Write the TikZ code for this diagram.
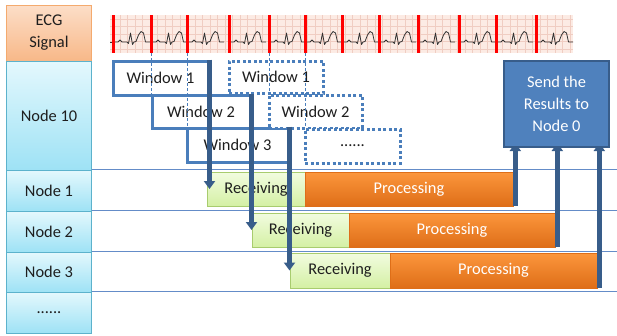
\documentclass[tikz,border=0pt]{standalone}
\usepackage{fontspec}
\setmainfont{Carlito}
\usetikzlibrary{arrows.meta}
\pgfdeclarelayer{front}
\pgfsetlayers{main,front}

\definecolor{laneedge}{RGB}{92,178,204}
\definecolor{lanetop}{RGB}{228,248,253}
\definecolor{lanebot}{RGB}{158,226,245}
\definecolor{sigtop}{RGB}{252,222,200}
\definecolor{sigbot}{RGB}{248,184,136}
\definecolor{sigedge}{RGB}{244,170,110}
\definecolor{rcvtop}{RGB}{242,252,224}
\definecolor{rcvbot}{RGB}{212,240,164}
\definecolor{rcvedge}{RGB}{168,204,110}
\definecolor{prctop}{RGB}{252,150,60}
\definecolor{prcbot}{RGB}{222,110,24}
\definecolor{winedge}{RGB}{74,126,187}
\definecolor{flow}{RGB}{56,93,138}
\definecolor{sendfill}{RGB}{79,129,189}
\definecolor{rowline}{RGB}{100,140,200}
\definecolor{paper}{RGB}{252,235,228}
\definecolor{paperline}{RGB}{240,205,194}
\definecolor{trace}{RGB}{50,50,50}
\definecolor{ink}{RGB}{30,30,30}

\begin{document}
\begin{tikzpicture}[x=1bp,y=-1bp,
  every node/.style={font=\fontsize{16.4bp}{22bp}\selectfont, inner sep=0pt, text=ink},
  sized/.style 2 args={minimum width=#1bp, minimum height=#2bp},
  lane/.style={draw=laneedge, line width=1bp, top color=lanetop, bottom color=lanebot},
  siglane/.style={draw=sigedge, line width=1bp, top color=sigtop, bottom color=sigbot, align=center},
  win/.style={draw=winedge, fill=white, line width=3bp},
  dotwin/.style={draw=winedge, fill=white, line width=3bp, dash pattern=on 3bp off 2.5bp},
  rcv/.style={draw=rcvedge, line width=0.8bp, top color=rcvtop, bottom color=rcvbot},
  prc/.style={draw=prcbot, line width=0.6bp, top color=prctop, bottom color=prcbot, text=white},
  sendbox/.style={draw=flow, fill=sendfill, line width=2bp, text=white, align=center},
  rowsep/.style={draw=rowline, line width=0.9bp},
  guide/.style={draw=winedge, line width=0.6bp, dash pattern=on 3bp off 2bp},
  ecgbar/.style={draw=red, line width=3bp},
  flowarrow/.style={draw=flow, line width=4.5bp, -{Triangle[width=11bp,length=8bp]}}
]
\useasboundingbox (0,0) rectangle (617,335);

% lane labels on the left
\node[siglane, sized={84}{56}] (ecg) at (49,33) {ECG\\Signal};
\node[lane, sized={84}{109}] (n10) at (49,115.5) {Node 10};
\node[lane, sized={84}{41}] (n1) at (49,190.5) {Node 1};
\node[lane, sized={84}{41}] (n2) at (49,231.5) {Node 2};
\node[lane, sized={84}{40}] (n3) at (49,272) {Node 3};
\node[lane, sized={84}{41}] (nd) at (49,312.5) {......};

% row separators
\coordinate (redge) at (617,0);
\foreach \r in {n1,n2,n3,nd}
  \draw[rowsep] (\r.north east) -- (\r.north east -| redge);

% ECG strip: paper, grid, trace, beat markers
\fill[paper] (110,15) rectangle (573,53);
\foreach \gx in {112.5,120,...,572}
  \draw[paperline, line width=0.5bp] (\gx,15) -- (\gx,53);
\foreach \gy in {19,26.5,...,53}
  \draw[paperline, line width=0.5bp] (110,\gy) -- (573,\gy);
\draw[trace, line width=0.8bp] (110,42) -- (113,42);
\foreach \bx in {113,151,187,229,269,305,342,379,418,459,496,536}
  \draw[trace, line width=0.8bp, line join=round, shift={(\bx,0)}]
    (0,42) -- (5,42) -- (7,40) -- (9,42) -- (14,42) -- (15.5,43.5) -- (17.5,33)
    -- (19.5,44.5) -- (21,42) -- (23,41.5) -- (25.5,35) -- (28,31.5) -- (30.5,33)
    -- (32.5,42) -- (37,42);
\foreach \i/\bx in {1/113,2/151,3/187,4/229,5/269,6/305,7/342,8/379,9/418,10/459,11/496,12/536}{
  \draw[ecgbar] (\bx,15) -- (\bx,53);
  \coordinate (bar\i) at (\bx,53);
}

% windows handled by Node 10
\node[win, sized={95}{34}] (w1) at (160.5,78) {Window 1};
\node[win, sized={98}{33}] (w2) at (201,111.5) {Window 2};
\node[win, sized={101}{34}] (w3) at (237.5,145) {Window 3};
\node[dotwin, sized={94}{32}] (dw1) at (276,77) {Window 1};
\node[dotwin, sized={93}{33}] (dw2) at (315.5,111.5) {Window 2};
\node[dotwin, sized={95}{34}] (dw3) at (352.5,146) {......};

% beat markers dropped to the window starts
\draw[guide] (bar2) -- (bar2 |- w2.north);
\draw[guide] (bar3) -- (bar3 |- w3.north);
\draw[guide] (bar5) -- (bar5 |- dw2.north);
\draw[guide] (bar6) -- (bar6 |- dw3.north);

% receiving and processing on the worker nodes
\node[rcv, sized={98}{34}] (r1) at (256,189) {Receiving};
\node[prc, sized={208}{34}] (p1) at (409,189) {Processing};
\node[rcv, sized={97}{34}] (r2) at (300.5,230) {Receiving};
\node[prc, sized={206}{34}] (p2) at (452,230) {Processing};
\node[rcv, sized={100}{35}] (r3) at (340,270.5) {Receiving};
\node[prc, sized={207}{35}] (p3) at (493.5,270.5) {Processing};

% result collector, kept in front of the incoming arrows
\begin{pgfonlayer}{front}
\node[sendbox, sized={105}{86}] (send) at (556.5,104) {Send the\\Results to\\Node 0};
\end{pgfonlayer}

% windows sent to the worker nodes
\draw[flowarrow] (w1.north east) -- (w1.north east |- r1.west);
\draw[flowarrow] (w2.north east) -- (w2.north east |- r2.west);
\draw[flowarrow] (w3.north east) -- (w3.north east |- r3.west);

% results returned
\draw[flowarrow, shorten >=-5bp] ([xshift=2bp]p1.south east) -- ([xshift=2bp]p1.south east |- send.south);
\draw[flowarrow, shorten >=-5bp] ([xshift=2bp]p2.south east) -- ([xshift=2bp]p2.south east |- send.south);
\draw[flowarrow, shorten >=-5bp] ([xshift=2bp]p3.south east) -- ([xshift=2bp]p3.south east |- send.south);
\end{tikzpicture}
\end{document}
